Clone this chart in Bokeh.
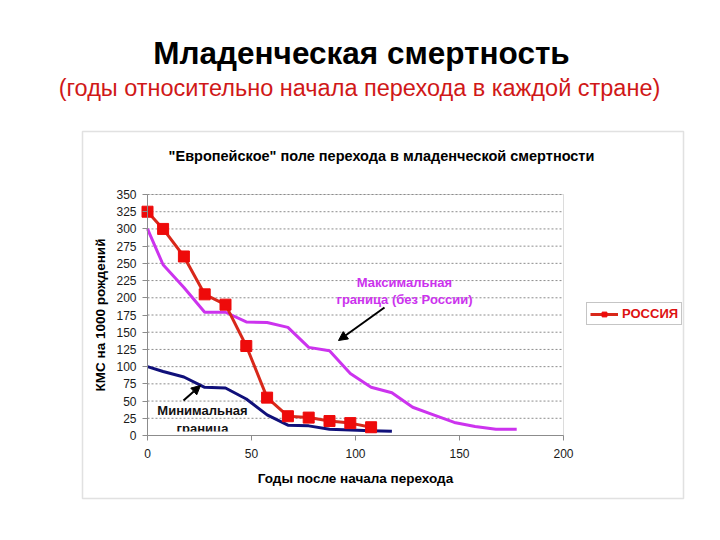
from bokeh.plotting import figure
from bokeh.models import (Label, Legend, LegendItem, Arrow, NormalHead, BoxAnnotation)
from bokeh.core.properties import value
from bokeh.embed import file_html
from bokeh.resources import INLINE

# ---- data ----
russia_x = [0, 7.5, 17.5, 27.5, 37.5, 47.5, 57.5, 67.5, 77.5, 87.5, 97.5, 107.5]
russia_y = [325, 300, 260, 205, 190, 130, 55, 28, 26, 21, 18, 12]

max_x = [0, 7.5, 17.5, 27.5, 37.5, 47.5, 57.5, 67.5, 77.5, 87.5, 97.5, 107.5,
         117.5, 127.5, 137.5, 147.5, 157.5, 167.5, 177.5]
max_y = [300, 248, 215, 179, 179, 165, 164, 157, 128, 123, 90, 70,
         62, 41, 30, 19, 13, 9, 9]

min_x = [0, 7.5, 17.5, 27.5, 37.5, 47.5, 57.5, 67.5, 77.5, 87.5, 97.5, 107.5, 117.5]
min_y = [100, 93, 85, 70, 69, 53, 30, 15, 14, 9, 8, 7, 6]

x_ticks = [0, 50, 100, 150, 200]
y_ticks = list(range(0, 351, 25))

title_main = "Младенческая смертность"
title_sub = "(годы относительно начала перехода в каждой стране)"
chart_title = "\"Европейское\" поле перехода в младенческой смертности"
x_label = "Годы после начала перехода"
y_label = "КМС на 1000 рождений"
max_label = ["Максимальная", "граница (без России)"]
min_label = ["Минимальная", "граница"]
legend_label = "РОССИЯ"

FONT = "Liberation Sans"

# plot-area geometry in pixels (the whole canvas is the frame)
FL, FR, FT, FB = 147, 563, 194, 435
W, H = 720, 540
XMIN, XMAX, YMIN, YMAX = 0, 200, 0, 350


def dx(px):
    return XMIN + (px - FL) / (FR - FL) * (XMAX - XMIN)


def dy(py):
    return YMIN + (FB - py) / (FB - FT) * (YMAX - YMIN)


p = figure(frame_width=W, frame_height=H,
           min_border_left=0, min_border_right=0, min_border_top=0, min_border_bottom=0,
           x_range=(dx(0), dx(W)), y_range=(dy(H), dy(0)),
           output_backend="svg", toolbar_location=None,
           background_fill_color="white", border_fill_color="white")

p.outline_line_color = None
p.xgrid.grid_line_color = None
p.ygrid.grid_line_color = None

GRAY = "#8c8c8c"

# outer chart frame
p.add_layout(BoxAnnotation(left=dx(82), right=dx(683), top=dy(131), bottom=dy(498),
                           fill_color=None, line_color="#9a9a9a", line_width=1.5,
                           level="underlay"))

# horizontal dotted grid lines at y ticks, across the plot area
p.segment(x0=[XMIN] * len(y_ticks), x1=[XMAX] * len(y_ticks), y0=y_ticks, y1=y_ticks,
          line_color=GRAY, line_dash="2 2", line_width=1, level="underlay")

# plot area outline
p.add_layout(BoxAnnotation(left=XMIN, right=XMAX, bottom=YMIN, top=YMAX,
                           fill_color=None, line_color=GRAY, line_width=1,
                           level="underlay"))

# axes at fixed positions
p.xaxis.fixed_location = YMIN
p.yaxis.fixed_location = XMIN
p.xaxis.bounds = (XMIN, XMAX)
p.yaxis.bounds = (YMIN, YMAX)
p.xaxis.ticker = x_ticks
p.yaxis.ticker = y_ticks
for ax in (p.xaxis, p.yaxis):
    ax.axis_line_color = GRAY
    ax.major_tick_line_color = GRAY
    ax.minor_tick_line_color = None
    ax.major_tick_in = 0
    ax.major_tick_out = 5
    ax.major_label_text_font = FONT
    ax.major_label_text_font_size = "12px"
    ax.major_label_text_color = "#1a1a1a"
    ax.axis_label_text_font = FONT
    ax.axis_label_text_font_size = "13.5px"
    ax.axis_label_text_font_style = "bold"
    ax.axis_label_text_color = "black"
p.xaxis.major_label_standoff = 8
p.yaxis.major_label_standoff = 6
p.xaxis.axis_label = x_label
p.yaxis.axis_label = y_label
p.xaxis.axis_label_standoff = 10
p.yaxis.axis_label_standoff = 5

# lines
p.line(max_x, max_y, line_color="#cc33ee", line_width=3)
p.line(min_x, min_y, line_color="#10107a", line_width=3)
r_line = p.line(russia_x, russia_y, line_color="#d8281a", line_width=3)
r_sq = p.scatter(russia_x, russia_y, marker="square", size=11,
                 fill_color="#ee0a0a", line_color="#ee0a0a")

# annotation texts
p.text(x=[dx(404), dx(404)], y=[dy(281.5), dy(298.5)], text=max_label,
       text_font=value(FONT), text_font_size="13px", text_font_style="bold",
       text_color="#cc33ee", text_align="center", text_baseline="middle")
p.text(x=[dx(202), dx(202)], y=[dy(410), dy(428)], text=min_label,
       text_font=value(FONT), text_font_size="13px", text_font_style="bold",
       text_color="#111111", text_align="center", text_baseline="middle")
# the second line of the lower label is cut off by the plot area edge in the original
p.add_layout(BoxAnnotation(left=dx(160), right=dx(245), top=dy(431), bottom=dy(443),
                           fill_color="white", fill_alpha=1, line_color=None,
                           level="glyph"))

# arrows
p.add_layout(Arrow(x_start=dx(384), y_start=dy(307), x_end=dx(338), y_end=dy(340),
                   line_color="black", line_width=2,
                   end=NormalHead(size=9, fill_color="black", line_color="black")))
p.add_layout(Arrow(x_start=dx(183), y_start=dy(400), x_end=dx(200), y_end=dy(385),
                   line_color="black", line_width=2,
                   end=NormalHead(size=9, fill_color="black", line_color="black")))

# titles
p.add_layout(Label(x=dx(361), y=dy(52), text=title_main, text_font=FONT,
                   text_font_size="31.5px", text_font_style="bold", text_color="black",
                   text_align="center", text_baseline="middle"))
p.add_layout(Label(x=dx(359), y=dy(87), text=title_sub, text_font=FONT,
                   text_font_size="23.5px", text_color="#d01818",
                   text_align="center", text_baseline="middle"))
p.add_layout(Label(x=dx(381), y=dy(155), text=chart_title, text_font=FONT,
                   text_font_size="14.5px", text_font_style="bold", text_color="black",
                   text_align="center", text_baseline="middle"))

# legend
legend = Legend(items=[LegendItem(label=legend_label, renderers=[r_line, r_sq])],
                location=(586, H - 325), orientation="vertical",
                label_text_font=FONT, label_text_font_size="13px",
                label_text_font_style="bold", label_text_color="#dd1111",
                glyph_width=28, glyph_height=12, label_standoff=4,
                padding=3, margin=0, spacing=0,
                border_line_color=GRAY, border_line_width=1,
                background_fill_color="white", background_fill_alpha=1)
p.add_layout(legend)

open("out.html", "w").write(file_html(p, INLINE))
